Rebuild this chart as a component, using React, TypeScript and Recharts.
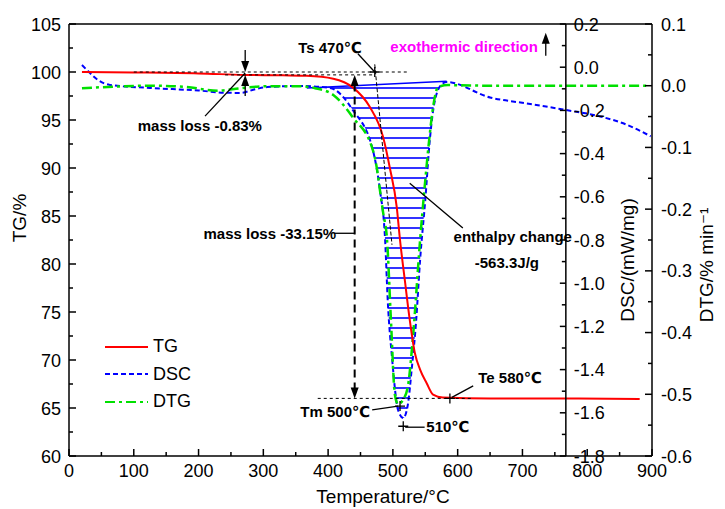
import React from "react";
import {
  ComposedChart,
  Line,
  Area,
  XAxis,
  YAxis,
  ReferenceLine,
  ReferenceDot,
  Legend,
  Label,
} from "recharts";

// TG curve (mass %, left axis)
const tgTemp = [20, 100, 200, 270, 330, 367, 408, 438, 464, 485, 495, 506, 511, 519, 526, 534, 542, 552, 562, 577, 650, 750, 881];
const tgMass = [100, 99.95, 99.85, 99.7, 99.65, 99.6, 99.3, 98.4, 96.4, 93.2, 90.1, 85.9, 82.5, 78.0, 74.2, 70.7, 69.0, 67.6, 66.4, 66.1, 66.0, 66.0, 65.95];

// DSC curve (mW/mg, inner axis)
const dscTemp = [20, 30, 45, 63, 125, 200, 240, 264, 290, 306, 357, 403, 438, 469, 480, 488, 492, 499, 508, 516, 523, 529, 536, 542, 550, 557, 565, 576, 583, 650, 712, 767, 820, 860, 898];
const dscFlow = [0.01, -0.02, -0.06, -0.082, -0.096, -0.108, -0.118, -0.119, -0.1, -0.092, -0.087, -0.096, -0.198, -0.383, -0.569, -0.8, -1.078, -1.356, -1.587, -1.624, -1.564, -1.4, -1.17, -0.893, -0.615, -0.337, -0.152, -0.078, -0.069, -0.14, -0.17, -0.198, -0.228, -0.265, -0.32];

// DTG curve (%/min, right axis)
const dtgTemp = [20, 60, 125, 180, 230, 265, 300, 357, 380, 408, 438, 469, 475, 480, 485, 491, 497, 503, 508, 515, 523, 531, 542, 550, 556, 562, 570, 585, 650, 750, 893];
const dtgRate = [-0.004, -0.002, 0.0, -0.002, -0.008, -0.004, -0.001, -0.001, -0.004, -0.015, -0.051, -0.104, -0.132, -0.169, -0.206, -0.25, -0.38, -0.5, -0.516, -0.51, -0.488, -0.407, -0.25, -0.153, -0.088, -0.035, -0.002, 0.001, 0.0, 0.0, 0.0];

// hatched enthalpy peak: DSC baseline vs DSC curve
const peakTemp = [367, 403, 438, 469, 480, 488, 492, 499, 508, 516, 523, 529, 536, 542, 550, 557, 565, 576, 583];
const peakBase = [-0.096, -0.091, -0.086, -0.081, -0.08, -0.079, -0.078, -0.077, -0.076, -0.075, -0.074, -0.073, -0.072, -0.071, -0.07, -0.069, -0.068, -0.066, -0.065];
const peakFlow = [-0.096, -0.096, -0.198, -0.383, -0.569, -0.8, -1.078, -1.356, -1.587, -1.624, -1.564, -1.4, -1.17, -0.893, -0.615, -0.337, -0.152, -0.078, -0.069];
const baseTemp = [367, 583];
const baseFlow = [-0.096, -0.065];

// ticks
const tempTicks = [0, 50, 100, 150, 200, 250, 300, 350, 400, 450, 500, 550, 600, 650, 700, 750, 800, 850, 900];
const tgTicks = [60, 62.5, 65, 67.5, 70, 72.5, 75, 77.5, 80, 82.5, 85, 87.5, 90, 92.5, 95, 97.5, 100, 102.5, 105];
const dscTicks = [0.2, 0.1, 0, -0.1, -0.2, -0.3, -0.4, -0.5, -0.6, -0.7, -0.8, -0.9, -1.0, -1.1, -1.2, -1.3, -1.4, -1.5, -1.6, -1.7, -1.8];
const dtgTicks = [0.1, 0.05, 0, -0.05, -0.1, -0.15, -0.2, -0.25, -0.3, -0.35, -0.4, -0.45, -0.5, -0.55, -0.6];
const DSC_AXIS_T = 767;

const tgData = tgTemp.map((t, i) => ({ t, tg: tgMass[i] }));
const dscData = dscTemp.map((t, i) => ({ t, dsc: dscFlow[i] }));
const dtgData = dtgTemp.map((t, i) => ({ t, dtg: dtgRate[i] }));
const peakData = peakTemp.map((t, i) => ({ t, range: [peakFlow[i], peakBase[i]] }));
const baseData = baseTemp.map((t, i) => ({ t, base: baseFlow[i] }));

const FONT = '"Liberation Sans", Arial, "DejaVu Sans", sans-serif';
const PLOT_L = 69;
const PLOT_R = 652;
const PLOT_B = 456;

function TgTick(p: any) {
  const v = p.payload.value;
  const major = v % 5 === 0;
  return (
    <g>
      <line x1={PLOT_L} x2={PLOT_L + (major ? 7 : 4)} y1={p.y} y2={p.y} stroke="#000" strokeWidth={1.5} />
      {major && (
        <text x={61} y={p.y} dy={6.5} textAnchor="end" fontSize={18} fontFamily={FONT} fill="#000">
          {v}
        </text>
      )}
    </g>
  );
}

function TempTick(p: any) {
  const v = p.payload.value;
  const major = v % 100 === 0;
  return (
    <g>
      <line x1={p.x} x2={p.x} y1={PLOT_B} y2={PLOT_B - (major ? 7 : 4)} stroke="#000" strokeWidth={1.5} />
      {major && (
        <text x={p.x} y={PLOT_B + 21} textAnchor="middle" fontSize={18} fontFamily={FONT} fill="#000">
          {v}
        </text>
      )}
    </g>
  );
}

function DtgTick(p: any) {
  const v = p.payload.value;
  const major = Math.abs(Math.round(v * 10) - v * 10) < 1e-6;
  return (
    <g>
      <line x1={PLOT_R} x2={PLOT_R - (major ? 7 : 4)} y1={p.y} y2={p.y} stroke="#000" strokeWidth={1.5} />
      {major && (
        <text x={661} y={p.y} dy={6.5} textAnchor="start" fontSize={18} fontFamily={FONT} fill="#000">
          {v.toFixed(1)}
        </text>
      )}
    </g>
  );
}

const dscTickShape = (v: number) => (p: any) => {
  const major = Math.round(v * 10) % 2 === 0;
  return (
    <g>
      <line x1={p.cx - (major ? 6 : 4)} x2={p.cx} y1={p.cy} y2={p.cy} stroke="#000" strokeWidth={1.5} />
      {major && (
        <text x={p.cx + 8} y={p.cy} dy={6.5} textAnchor="start" fontSize={18} fontFamily={FONT} fill="#000">
          {v.toFixed(1)}
        </text>
      )}
    </g>
  );
};

const note = (text: string, color = "#000", size = 15) => (p: any) => (
  <text x={p.cx} y={p.cy} dy="0.35em" textAnchor="middle" fontFamily={FONT} fontSize={size} fontWeight="bold" fill={color}>
    {text}
  </text>
);

const cross = (p: any) => (
  <path d={`M${p.cx - 5},${p.cy}H${p.cx + 5}M${p.cx},${p.cy - 5}V${p.cy + 5}`} stroke="#000" strokeWidth={1.3} fill="none" />
);

const arrowUp = (p: any) => <path d={`M${p.cx},${p.cy}L${p.cx - 4},${p.cy + 11}L${p.cx + 4},${p.cy + 11}Z`} fill="#000" />;
const arrowDown = (p: any) => <path d={`M${p.cx},${p.cy}L${p.cx - 4},${p.cy - 11}L${p.cx + 4},${p.cy - 11}Z`} fill="#000" />;

function seg(key: string, x1: number, y1: number, x2: number, y2: number, dash?: string, width = 1.3) {
  return (
    <ReferenceLine
      key={key}
      yAxisId="tg"
      segment={[{ x: x1, y: y1 }, { x: x2, y: y2 }]}
      stroke="#000"
      strokeWidth={width}
      strokeDasharray={dash}
      ifOverflow="visible"
    />
  );
}

function dot(key: string, x: number, y: number, shape: any) {
  return <ReferenceDot key={key} yAxisId="tg" x={x} y={y} r={0} shape={shape} ifOverflow="visible" />;
}

const legendItems = [
  { name: "TG", color: "#ff0000", dash: undefined as string | undefined },
  { name: "DSC", color: "#0000ff", dash: "5 3" },
  { name: "DTG", color: "#00e000", dash: "10 4 3 4" },
];

function LegendBox() {
  return (
    <div style={{ fontFamily: FONT, fontSize: 18, color: "#000" }}>
      {legendItems.map((it) => (
        <div key={it.name} style={{ display: "flex", alignItems: "center", height: 27.5 }}>
          <svg width={46} height={10}>
            <line x1={2} x2={45} y1={5} y2={5} stroke={it.color} strokeWidth={2} strokeDasharray={it.dash} />
          </svg>
          <span style={{ marginLeft: 4 }}>{it.name}</span>
        </div>
      ))}
    </div>
  );
}

export default function App() {
  return (
    <div style={{ position: "fixed", left: 0, top: 0, background: "#fff" }}>
      <ComposedChart width={725} height={509} margin={{ top: 24, right: 0, bottom: 0, left: 0 }}>
        <defs>
          <pattern id="hatch" patternUnits="userSpaceOnUse" x={0} y={3} width={6} height={10}>
            <line x1={0} x2={6} y1={5} y2={5} stroke="#0000ff" strokeWidth={1.6} />
          </pattern>
        </defs>
        <XAxis
          dataKey="t"
          type="number"
          domain={[0, 900]}
          ticks={tempTicks}
          interval={0}
          tick={(p: any) => <TempTick {...p} />}
          tickLine={false}
          axisLine={false}
          height={53}
          allowDataOverflow
        >
          <Label
            content={() => (
              <text x={383} y={503} textAnchor="middle" fontSize={19} fontFamily={FONT} fill="#000">
                Temperature/°C
              </text>
            )}
          />
        </XAxis>
        <YAxis
          yAxisId="tg"
          domain={[60, 105]}
          ticks={tgTicks}
          interval={0}
          tick={(p: any) => <TgTick {...p} />}
          tickLine={false}
          axisLine={false}
          width={69}
          allowDataOverflow
        >
          <Label
            content={() => (
              <text transform="translate(26,218) rotate(-90)" textAnchor="middle" fontSize={19} fontFamily={FONT} fill="#000">
                TG/%
              </text>
            )}
          />
        </YAxis>
        <YAxis yAxisId="dsc" hide domain={[-1.8, 0.2]} allowDataOverflow />
        <YAxis
          yAxisId="dtg"
          orientation="right"
          domain={[-0.6, 0.1]}
          ticks={dtgTicks}
          interval={0}
          tick={(p: any) => <DtgTick {...p} />}
          tickLine={false}
          axisLine={false}
          width={73}
          allowDataOverflow
        >
          <Label
            content={() => (
              <text transform="translate(713,265) rotate(-90)" textAnchor="middle" fontSize={19} fontFamily={FONT} fill="#000">
                DTG/% min⁻¹
              </text>
            )}
          />
          <Label
            content={() => (
              <text transform="translate(634,260) rotate(-90)" textAnchor="middle" fontSize={19} fontFamily={FONT} fill="#000">
                DSC/(mW/mg)
              </text>
            )}
          />
        </YAxis>

        <Area
          yAxisId="dsc"
          data={peakData}
          dataKey="range"
          type="monotone"
          stroke="none"
          fill="url(#hatch)"
          fillOpacity={1}
          isAnimationActive={false}
          legendType="none"
        />
        <Line yAxisId="dsc" data={baseData} dataKey="base" type="linear" stroke="#0000ff" strokeWidth={1.5} dot={false} isAnimationActive={false} legendType="none" />
        <Line yAxisId="dsc" data={dscData} dataKey="dsc" name="DSC" type="monotone" stroke="#0000ff" strokeWidth={2} strokeDasharray="5 3" dot={false} isAnimationActive={false} />
        <Line yAxisId="dtg" data={dtgData} dataKey="dtg" name="DTG" type="monotone" stroke="#00e000" strokeWidth={2.5} strokeDasharray="10 4 3 4" dot={false} isAnimationActive={false} />
        <Line yAxisId="tg" data={tgData} dataKey="tg" name="TG" type="monotone" stroke="#ff0000" strokeWidth={2} dot={false} isAnimationActive={false} />

        {/* frame and inner DSC axis */}
        <ReferenceLine yAxisId="tg" y={105} stroke="#000" strokeWidth={1.5} ifOverflow="visible" />
        <ReferenceLine yAxisId="tg" y={60} stroke="#000" strokeWidth={1.5} ifOverflow="visible" />
        <ReferenceLine yAxisId="tg" x={0} stroke="#000" strokeWidth={1.5} ifOverflow="visible" />
        <ReferenceLine yAxisId="tg" x={900} stroke="#000" strokeWidth={1.5} ifOverflow="visible" />
        <ReferenceLine yAxisId="tg" x={DSC_AXIS_T} stroke="#000" strokeWidth={1.5} ifOverflow="visible" />
        {dscTicks.map((v) => (
          <ReferenceDot key={"dsc" + v} yAxisId="dsc" x={DSC_AXIS_T} y={v} r={0} shape={dscTickShape(v)} ifOverflow="visible" />
        ))}

        {/* mass loss -0.83% */}
        {seg("dl1", 100, 100, 526, 100, "3 3", 1)}
        {seg("dl2", 241, 99.7, 468, 99.7, "3 3", 1)}
        {seg("ml1a", 272, 102.3, 272, 100.6)}
        {dot("ml1ah", 272, 100, arrowDown)}
        {seg("ml1b", 272, 97.5, 272, 99.2)}
        {dot("ml1bh", 272, 99.7, arrowUp)}
        {seg("ml1l", 210, 95.4, 272, 99.9)}
        {dot("ml1t", 202, 94.4, note("mass loss -0.83%"))}

        {/* Ts */}
        {seg("tsl", 446, 101.9, 472, 100)}
        {seg("tstan", 472, 100.8, 498.6, 82, "4 2", 1)}
        {dot("tsc", 472, 100, cross)}
        {dot("tst", 403, 102.5, note("Ts 470℃"))}

        {/* exothermic */}
        {dot("exo", 610, 102.6, note("exothermic direction", "#ff00ff"))}
        {seg("exol", 736, 101.7, 736, 103.4)}
        {dot("exoh", 736, 104.1, arrowUp)}

        {/* mass loss -33.15% */}
        {seg("ml2", 441, 98.8, 441, 67, "8 5", 2)}
        {dot("ml2u", 441, 99.7, arrowUp)}
        {dot("ml2d", 441, 66.0, arrowDown)}
        {seg("ml2l", 409, 83.2, 441, 83.2)}
        {dot("ml2t", 310, 83.2, note("mass loss -33.15%"))}

        {/* end of decomposition */}
        {seg("dl3", 384, 66.0, 622, 66.0, "3 3", 1)}
        {seg("tel", 624, 67.3, 591, 66.1)}
        {dot("tec", 588, 66.0, cross)}
        {dot("tet", 681, 68.1, note("Te 580℃"))}
        {seg("tml", 468, 64.8, 508, 65.2)}
        {dot("tmc", 511, 65.2, cross)}
        {dot("tmt", 411, 64.6, note("Tm 500℃"))}
        {seg("pkl", 549, 63.0, 519, 63.0)}
        {dot("pkc", 516, 63.1, cross)}
        {dot("pkt", 585, 63.0, note("510℃"))}

        {/* enthalpy */}
        {seg("enl", 608, 83.75, 526, 88.4)}
        {dot("ent1", 685, 82.8, note("enthalpy change"))}
        {dot("ent2", 676, 80.1, note("-563.3J/g"))}

        <Legend
          layout="vertical"
          align="center"
          verticalAlign="middle"
          wrapperStyle={{ left: 103, top: 333, width: 110, height: 85 }}
          content={() => <LegendBox />}
        />
      </ComposedChart>
    </div>
  );
}
